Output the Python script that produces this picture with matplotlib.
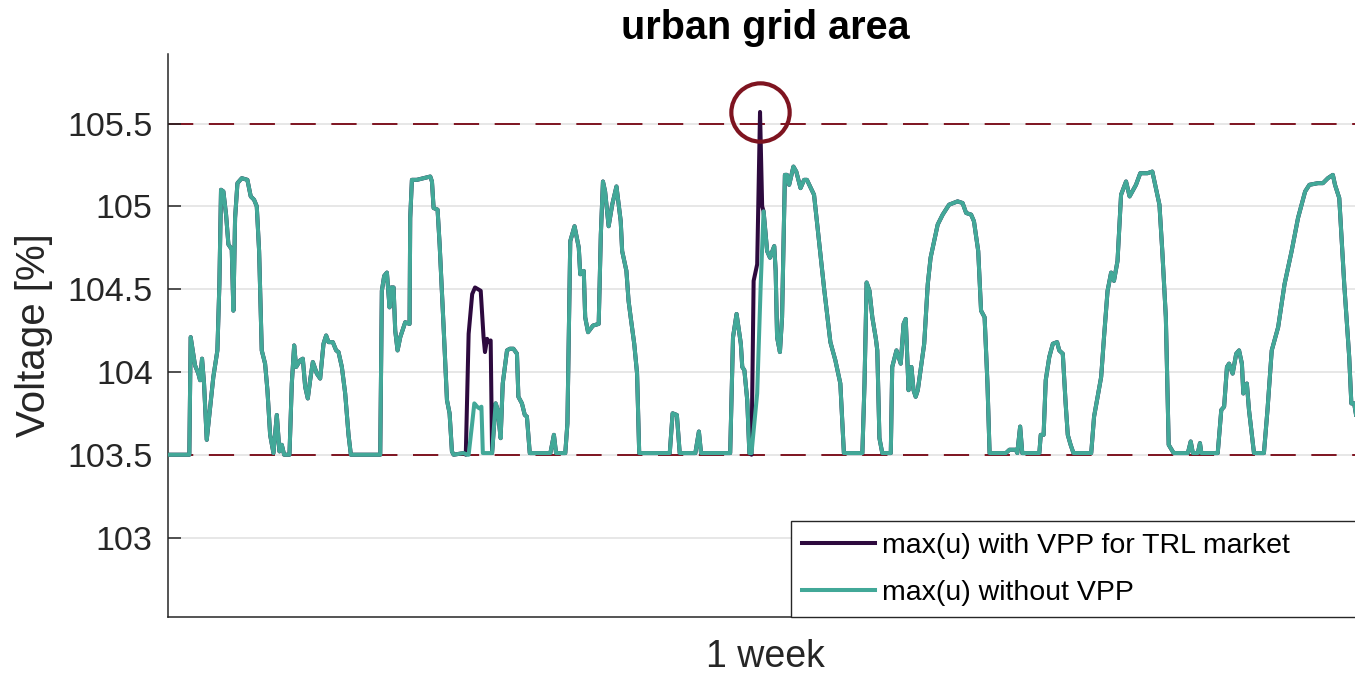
import matplotlib
matplotlib.use("Agg")
import matplotlib.pyplot as plt
import numpy as np

# time in hours over one week, voltage in % of nominal
t_without = [
    0, 3.0, 3.19, 3.8, 4.27, 4.51, 4.79, 5.07, 5.45, 6.38, 6.95, 7.23, 7.46, 7.79, 8.17, 8.5,
    8.97, 9.2, 9.44, 9.77, 10.38, 11.17, 11.64, 12.11, 12.49, 12.82, 13.19, 13.66, 13.99, 14.37,
    14.84, 15.31, 15.68, 16.01, 16.34, 17.09, 17.42, 17.75, 18.03, 18.59, 18.97, 19.3, 19.67,
    20.0, 20.38, 20.94, 21.41, 21.88, 22.25, 22.58, 23.19, 23.66, 23.99, 24.46, 24.93, 25.4,
    25.73, 29.86, 30.09, 30.42, 30.8, 31.17, 31.41, 31.74, 31.97, 32.3, 32.68, 33.38, 33.99,
    34.08, 34.32, 35.02, 35.96, 36.9, 37.14, 37.37, 37.93, 38.22, 38.78, 39.25, 39.62, 39.95,
    40.19, 41.6, 42.07, 42.3, 42.8, 43.1, 43.5, 43.8, 44.1, 44.3, 45.6, 46.1, 46.4, 46.8, 47.1,
    47.7, 48.1, 48.6, 49.1, 49.3, 49.8, 50.2, 50.5, 50.9, 53.8, 54.3, 54.6, 55.9, 56.2, 56.6,
    57.2, 57.8, 58.0, 58.5, 58.7, 59.1, 59.8, 60.6, 60.9, 61.2, 61.5, 62.0, 62.5, 63.1, 63.7,
    63.9, 64.5, 64.8, 65.1, 65.6, 66.0, 66.3, 70.6, 71.0, 71.6, 72.0, 74.2, 74.7, 75.0, 79.1,
    79.5, 80.0, 80.6, 80.8, 81.1, 81.5, 81.8, 82.1, 82.9, 83.4, 83.8, 84.3, 84.7, 85.3, 85.5,
    85.7, 86.1, 86.4, 86.8, 87.1, 87.4, 88.0, 88.4, 89.0, 89.5, 89.9, 90.9, 91.6, 92.3, 93.2,
    93.9, 94.6, 95.1, 97.7, 98.0, 98.3, 98.7, 99.1, 99.6, 99.8, 100.1, 100.5, 101.7, 101.9,
    102.5, 103.1, 103.5, 103.8, 104.2, 104.6, 104.9, 105.2, 105.5, 106.4, 106.9, 107.3, 108.3,
    109.0, 109.9, 111.1, 111.8, 112.3, 113.0, 113.4, 114.0, 114.4, 114.9, 115.3, 115.6, 117.9,
    118.4, 119.3, 119.5, 119.9, 120.2, 122.6, 122.8, 123.2, 123.5, 124.0, 124.5, 125.1, 125.4,
    125.9, 126.3, 126.6, 127.0, 127.4, 129.9, 130.3, 131.3, 131.7, 132.2, 132.7, 133.1, 133.6,
    134.1, 134.8, 135.3, 136.2, 136.8, 137.8, 138.5, 139.5, 139.9, 140.4, 140.8, 141.5, 143.5,
    143.9, 144.2, 144.9, 145.2, 145.4, 147.7, 148.2, 148.6, 149.0, 149.3, 149.8, 150.3, 150.7,
    151.1, 151.3, 151.8, 152.1, 152.8, 154.2, 154.7, 155.3, 156.2, 157.1, 158.1, 159.0, 160.0,
    160.6, 161.8, 162.5, 163.2, 163.9, 164.2, 164.8, 165.5, 166.2, 166.5, 166.9, 167.2, 167.8,
]
u_without = [
    103.5, 103.5, 104.21, 104.04, 103.99, 103.95, 104.08, 103.93, 103.59, 103.97, 104.13, 104.53,
    105.10, 105.09, 104.95, 104.77, 104.74, 104.37, 104.93, 105.14, 105.17, 105.16, 105.06,
    105.04, 105.0, 104.73, 104.13, 104.05, 103.89, 103.62, 103.51, 103.74, 103.52, 103.56,
    103.5, 103.5, 103.93, 104.16, 104.03, 104.07, 104.08, 103.91, 103.84, 103.95, 104.06,
    103.99, 103.96, 104.17, 104.22, 104.18, 104.18, 104.13, 104.12, 104.03, 103.87, 103.62,
    103.5, 103.5, 104.49, 104.58, 104.60, 104.39, 104.51, 104.51, 104.25, 104.13, 104.21,
    104.30, 104.29, 104.93, 105.16, 105.16, 105.17, 105.18, 105.15, 104.99, 104.98, 104.77,
    104.27, 103.83, 103.75, 103.52, 103.5, 103.51, 103.5, 103.5, 103.69, 103.81, 103.79,
    103.78, 103.79, 103.51, 103.51, 103.81, 103.77, 103.60, 103.93, 104.13, 104.14, 104.14,
    104.11, 103.85, 103.81, 103.74, 103.73, 103.51, 103.51, 103.62, 103.51, 103.51, 103.69,
    104.79, 104.88, 104.75, 104.59, 104.61, 104.33, 104.24, 104.28, 104.29, 104.83, 105.15,
    105.09, 104.88, 105.01, 105.12, 104.91, 104.73, 104.61, 104.43, 104.33, 104.17, 103.99,
    103.51, 103.51, 103.75, 103.74, 103.51, 103.51, 103.64, 103.51, 103.51, 104.21, 104.35,
    104.17, 104.03, 104.01, 103.83, 103.51, 103.51, 103.87, 104.53, 104.97, 104.73, 104.69,
    104.76, 104.61, 104.21, 104.12, 104.33, 105.19, 105.19, 105.13, 105.24, 105.21, 105.11,
    105.16, 105.16, 105.07, 104.79, 104.51, 104.18, 104.07, 103.93, 103.51, 103.51, 103.93,
    104.54, 104.49, 104.33, 104.20, 104.13, 103.60, 103.51, 103.51, 104.03, 104.13, 104.05,
    104.29, 104.32, 103.89, 104.03, 103.89, 103.85, 103.89, 104.17, 104.53, 104.69, 104.89,
    104.95, 105.01, 105.03, 105.02, 104.96, 104.95, 104.91, 104.73, 104.37, 104.33, 103.93,
    103.51, 103.51, 103.53, 103.53, 103.51, 103.67, 103.51, 103.51, 103.62, 103.62, 103.95,
    104.09, 104.17, 104.18, 104.13, 104.11, 103.81, 103.62, 103.56, 103.51, 103.51, 103.73,
    103.97, 104.21, 104.49, 104.60, 104.55, 104.67, 105.07, 105.15, 105.06, 105.13, 105.20,
    105.20, 105.21, 105.01, 104.73, 104.33, 103.56, 103.51, 103.51, 103.58, 103.51, 103.51,
    103.57, 103.51, 103.51, 103.77, 103.79, 104.03, 104.05, 103.99, 104.11, 104.13, 104.05,
    103.87, 103.93, 103.77, 103.51, 103.51, 103.77, 104.13, 104.27, 104.53, 104.73, 104.93,
    105.09, 105.13, 105.14, 105.14, 105.17, 105.19, 105.13, 105.05, 104.53, 104.09, 103.81,
    103.81, 103.73, 103.65,
]

# where the VPP schedule for the TRL market changes the maximum voltage
vpp_windows = [(41.8, 45.65), (82.0, 83.7)]
t_vpp_change = [41.9, 42.3, 42.8, 43.2, 44.0, 44.4, 44.6, 44.9, 45.1, 45.4, 45.6,
                82.1, 82.4, 82.9, 83.3, 83.6]
u_vpp_change = [103.5, 104.23, 104.47, 104.51, 104.49, 104.21, 104.12, 104.20, 104.18, 104.19, 103.51,
                103.5, 104.55, 104.65, 105.57, 105.0]

u_lower, u_upper = 103.5, 105.5
violation = (83.3, 105.57)
yticks = [103, 103.5, 104, 104.5, 105, 105.5]

TEAL, PURPLE, RED, INK = "#42a898", "#2d0a3e", "#7e1420", "#262626"

# with-VPP series: baseline outside the windows, VPP values inside
keep = [not any(a < t < b for a, b in vpp_windows) for t in t_without]
t_with = np.array([t for t, k in zip(t_without, keep) if k] + t_vpp_change)
u_with = np.array([u for u, k in zip(u_without, keep) if k] + u_vpp_change)
order = np.argsort(t_with, kind="stable")
t_with, u_with = t_with[order], u_with[order]

plt.rcParams.update({"font.family": ["Liberation Sans", "DejaVu Sans"]})
fig = plt.figure(figsize=(13.55, 6.75), dpi=100)
ax = fig.add_axes([168 / 1355, 58 / 675, 1194 / 1355, 563 / 675])

for y in yticks:
    ax.axhline(y, color="#e0e0e0", linewidth=1.1, zorder=0)
for y in (u_lower, u_upper):
    ax.axhline(y, color=RED, linewidth=1.4, dashes=(13, 8), zorder=1)

ax.plot(t_with, u_with, color=PURPLE, linewidth=2.9, label="max(u) with VPP for TRL market", zorder=2)
ax.plot(t_without, u_without, color=TEAL, linewidth=2.9, label="max(u) without VPP", zorder=3)
ax.plot(*violation, marker="o", markersize=42, markerfacecolor="none",
        markeredgecolor=RED, markeredgewidth=3, zorder=4)

ax.set_xlim(0, 168)
ax.set_ylim(102.52, 105.92)
ax.set_xticks([])
ax.set_yticks(yticks)
ax.set_yticklabels([f"{y:g}" for y in yticks])
ax.tick_params(axis="y", direction="in", length=9.5, width=1.1, color=INK,
               labelsize=24.5, labelcolor=INK, pad=11)
for s in ("top", "right"):
    ax.spines[s].set_visible(False)
for s in ("left", "bottom"):
    ax.spines[s].set_color(INK)
    ax.spines[s].set_linewidth(1.1)

ax.set_title("urban grid area", fontsize=28.5, fontweight="bold", pad=11)
ax.set_ylabel("Voltage [%]", fontsize=29, color=INK, labelpad=10)
ax.set_xlabel("1 week", fontsize=27, color=INK, labelpad=16)

x0 = (791 - 168) / 1194
leg = ax.legend(loc="lower left", bbox_to_anchor=(x0, 0, 1.02 - x0, 0.17), mode="expand",
                borderaxespad=0, fontsize=20.5, frameon=True, fancybox=False,
                handlelength=2.55, handletextpad=0.25, labelspacing=0.73, borderpad=0.4)
leg.get_frame().set_edgecolor(INK)
leg.get_frame().set_linewidth(1.0)
leg.get_frame().set_alpha(1)

fig.savefig("out.png", dpi=100)
